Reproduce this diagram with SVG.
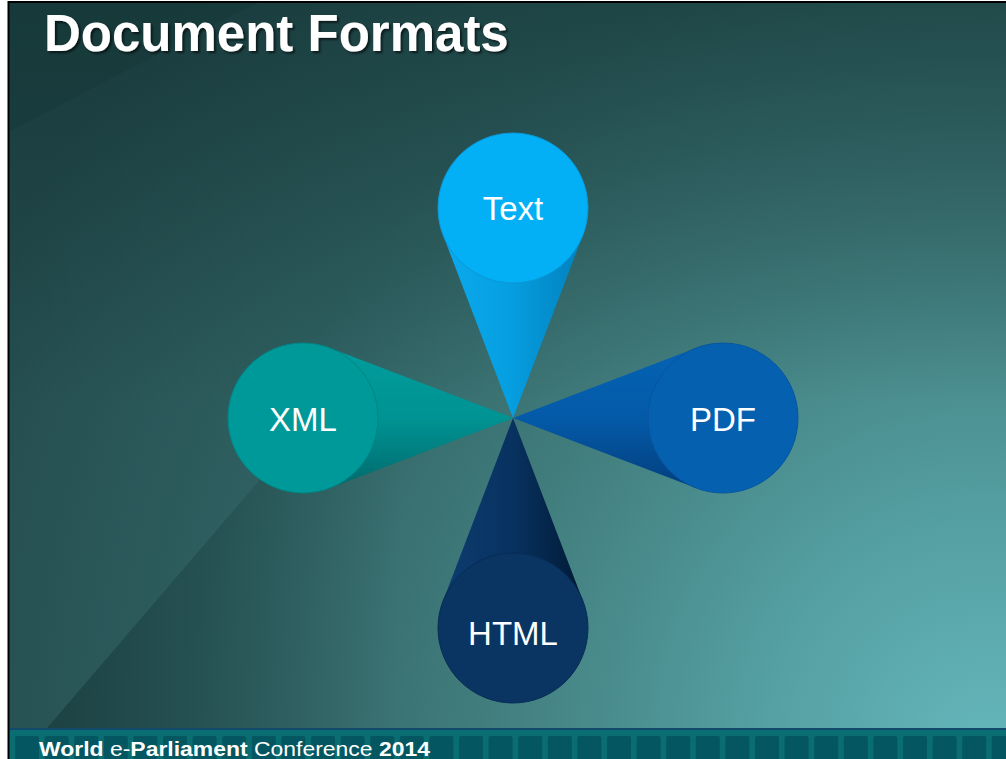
<svg xmlns="http://www.w3.org/2000/svg" width="1006" height="759" viewBox="0 0 1006 759">
<defs>
<style>
.lbl{font-family:"Liberation Sans",Arial,sans-serif;font-size:33px;fill:#ffffff;text-anchor:middle}
.title{font-family:"Liberation Sans",Arial,sans-serif;font-size:51px;font-weight:bold;fill:#ffffff}
.foot{font-family:"Liberation Sans",Arial,sans-serif;font-size:21px;fill:#ffffff}
.b{font-weight:bold}
.sq{fill:#045760}
</style>
<radialGradient id="bg" gradientUnits="userSpaceOnUse" cx="985" cy="745" r="1100">
<stop offset="0" stop-color="#64b6ba"/>
<stop offset="0.2" stop-color="#55a0a3"/>
<stop offset="0.45" stop-color="#427e7e"/>
<stop offset="0.72" stop-color="#2e5e5f"/>
<stop offset="1" stop-color="#234a4c"/>
</radialGradient>
<linearGradient id="topShade" x1="0" y1="0" x2="0" y2="1">
<stop offset="0" stop-color="#0d2a2b" stop-opacity="0.45"/>
<stop offset="0.55" stop-color="#0d2a2b" stop-opacity="0"/>
</linearGradient>
<linearGradient id="ray" gradientUnits="userSpaceOnUse" x1="60" y1="600" x2="400" y2="600">
<stop offset="0" stop-color="#0f2d2f" stop-opacity="0.45"/>
<stop offset="1" stop-color="#0f2d2f" stop-opacity="0"/>
</linearGradient>
<linearGradient id="gText" x1="0" y1="0" x2="1" y2="0">
<stop offset="0" stop-color="#0aa9ed"/>
<stop offset="0.45" stop-color="#06a0e2"/>
<stop offset="1" stop-color="#0280bd"/>
</linearGradient>
<linearGradient id="gHtml" x1="0" y1="0" x2="1" y2="0">
<stop offset="0" stop-color="#0c3c70"/>
<stop offset="0.5" stop-color="#08325f"/>
<stop offset="1" stop-color="#011a36"/>
</linearGradient>
<linearGradient id="gXml" x1="0" y1="0" x2="0" y2="1">
<stop offset="0" stop-color="#019c9c"/>
<stop offset="0.5" stop-color="#009393"/>
<stop offset="1" stop-color="#006a6d"/>
</linearGradient>
<linearGradient id="gPdf" x1="0" y1="0" x2="0" y2="1">
<stop offset="0" stop-color="#0562b3"/>
<stop offset="0.5" stop-color="#045aa8"/>
<stop offset="1" stop-color="#033f7e"/>
</linearGradient>
<filter id="shadow" x="-5%" y="-20%" width="110%" height="150%">
<feDropShadow dx="2" dy="2" stdDeviation="1" flood-color="#000000" flood-opacity="0.6"/>
</filter>
</defs>

<rect x="0" y="0" width="1006" height="759" fill="#ffffff"/>
<g id="background">
<rect x="9" y="2" width="997" height="727" fill="url(#bg)"/>
<rect x="9" y="2" width="997" height="727" fill="url(#topShade)"/>
<polygon points="10,3 10,131 256,3" fill="#0d2a2b" fill-opacity="0.18"/>
<polygon points="47,728 330,398 700,728" fill="url(#ray)"/>
</g>

<g id="footer">
<rect x="9" y="728" width="997" height="31" fill="#0a6d72"/>
<rect x="9" y="728" width="997" height="2" fill="#124a6e"/>
<g id="footer-squares">
<rect class="sq" x="15" y="736" width="24" height="26" rx="2"/>
<rect class="sq" x="44.6" y="736" width="24" height="26" rx="2"/>
<rect class="sq" x="74.2" y="736" width="24" height="26" rx="2"/>
<rect class="sq" x="103.8" y="736" width="24" height="26" rx="2"/>
<rect class="sq" x="133.4" y="736" width="24" height="26" rx="2"/>
<rect class="sq" x="163" y="736" width="24" height="26" rx="2"/>
<rect class="sq" x="192.6" y="736" width="24" height="26" rx="2"/>
<rect class="sq" x="222.2" y="736" width="24" height="26" rx="2"/>
<rect class="sq" x="251.8" y="736" width="24" height="26" rx="2"/>
<rect class="sq" x="281.4" y="736" width="24" height="26" rx="2"/>
<rect class="sq" x="311" y="736" width="24" height="26" rx="2"/>
<rect class="sq" x="340.6" y="736" width="24" height="26" rx="2"/>
<rect class="sq" x="370.2" y="736" width="24" height="26" rx="2"/>
<rect class="sq" x="399.8" y="736" width="24" height="26" rx="2"/>
<rect class="sq" x="429.4" y="736" width="24" height="26" rx="2"/>
<rect class="sq" x="459" y="736" width="24" height="26" rx="2"/>
<rect class="sq" x="488.6" y="736" width="24" height="26" rx="2"/>
<rect class="sq" x="518.2" y="736" width="24" height="26" rx="2"/>
<rect class="sq" x="547.8" y="736" width="24" height="26" rx="2"/>
<rect class="sq" x="577.4" y="736" width="24" height="26" rx="2"/>
<rect class="sq" x="607" y="736" width="24" height="26" rx="2"/>
<rect class="sq" x="636.6" y="736" width="24" height="26" rx="2"/>
<rect class="sq" x="666.2" y="736" width="24" height="26" rx="2"/>
<rect class="sq" x="695.8" y="736" width="24" height="26" rx="2"/>
<rect class="sq" x="725.4" y="736" width="24" height="26" rx="2"/>
<rect class="sq" x="755" y="736" width="24" height="26" rx="2"/>
<rect class="sq" x="784.6" y="736" width="24" height="26" rx="2"/>
<rect class="sq" x="814.2" y="736" width="24" height="26" rx="2"/>
<rect class="sq" x="843.8" y="736" width="24" height="26" rx="2"/>
<rect class="sq" x="873.4" y="736" width="24" height="26" rx="2"/>
<rect class="sq" x="903" y="736" width="24" height="26" rx="2"/>
<rect class="sq" x="932.6" y="736" width="24" height="26" rx="2"/>
<rect class="sq" x="962.2" y="736" width="24" height="26" rx="2"/>
<rect class="sq" x="991.8" y="736" width="24" height="26" rx="2"/>
</g>
<text class="foot" x="39" y="756" textLength="391" lengthAdjust="spacingAndGlyphs"><tspan class="b">World</tspan> e-<tspan class="b">Parliament</tspan> Conference <tspan class="b">2014</tspan></text>
</g>

<rect x="8.5" y="2" width="1000" height="760" fill="none" stroke="#000000" stroke-width="2"/>

<text class="title" x="44" y="51" filter="url(#shadow)">Document Formats</text>

<g id="connectors">
<polygon points="513,418 443,235 583,235" fill="url(#gText)"/>
<polygon points="513,418 330,348 330,488" fill="url(#gXml)"/>
<polygon points="513,418 696,348 696,488" fill="url(#gPdf)"/>
<polygon points="513,418 443,601 583,601" fill="url(#gHtml)"/>
</g>

<g id="node-text">
<circle cx="513" cy="208" r="75" fill="#03b0f5" stroke="#0a98d8" stroke-width="1"/>
<text class="lbl" x="513" y="220">Text</text>
</g>
<g id="node-xml">
<circle cx="303" cy="418" r="75" fill="#009999" stroke="#008585" stroke-width="1"/>
<text class="lbl" x="303" y="431">XML</text>
</g>
<g id="node-pdf">
<circle cx="723" cy="418" r="75" fill="#0560b0" stroke="#0656a0" stroke-width="1"/>
<text class="lbl" x="723" y="431">PDF</text>
</g>
<g id="node-html">
<circle cx="513" cy="628" r="75" fill="#0a3462" stroke="#082c55" stroke-width="1"/>
<text class="lbl" x="513" y="645">HTML</text>
</g>
</svg>
